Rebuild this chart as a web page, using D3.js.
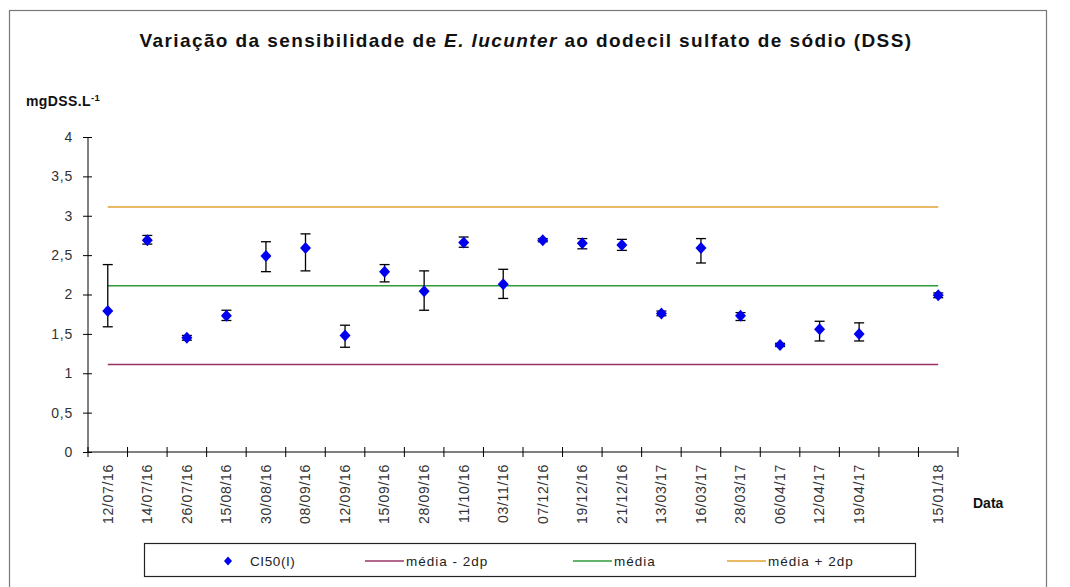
<!DOCTYPE html>
<html>
<head>
<meta charset="utf-8">
<script src="https://cdn.jsdelivr.net/npm/d3@7"></script>
<style>
  body { margin: 0; background: #fff; }
  text { font-family: "Liberation Sans", Arial, sans-serif; }
</style>
</head>
<body>
<div id="chart"></div>
<script>
// Categories (one empty slot before the last date, as in the original sheet)
const dates = ['12/07/16', '14/07/16', '26/07/16', '15/08/16', '30/08/16', '08/09/16',
    '12/09/16', '15/09/16', '28/09/16', '11/10/16', '03/11/16', '07/12/16', '19/12/16',
    '21/12/16', '13/03/17', '16/03/17', '28/03/17', '06/04/17', '12/04/17', '19/04/17',
    '', '15/01/18'];

// CI50(I) values in mgDSS/L (null = no sample)
const ci50 = [1.79, 2.69, 1.45, 1.73, 2.49, 2.59, 1.48, 2.29, 2.04, 2.66, 2.13, 2.69,
    2.65, 2.63, 1.76, 2.59, 1.73, 1.36, 1.56, 1.50, null, 1.99];
// confidence interval limits
const ciUpper = [2.38, 2.75, 1.48, 1.80, 2.67, 2.77, 1.61, 2.38, 2.30, 2.73, 2.32, 2.71,
    2.71, 2.70, 1.79, 2.71, 1.77, 1.38, 1.66, 1.64, null, 2.02];
const ciLower = [1.59, 2.64, 1.42, 1.67, 2.29, 2.30, 1.33, 2.16, 1.80, 2.60, 1.95, 2.67,
    2.58, 2.56, 1.73, 2.40, 1.67, 1.34, 1.41, 1.41, null, 1.96];

const media = 2.11;
const mediaMenos2dp = 1.11;
const mediaMais2dp = 3.11;

const yTicks = [0, 0.5, 1, 1.5, 2, 2.5, 3, 3.5, 4];

const width = 1070, height = 587;
const plot = { left: 88, right: 958, top: 137, bottom: 452 };

const svg = d3.select('#chart')
    .append('svg')
    .attr('width', width)
    .attr('height', height);

// outer frame (bottom edge runs off the picture)
svg.append('rect')
    .attr('x', 9.5).attr('y', 10.5)
    .attr('width', 1037).attr('height', 600)
    .attr('fill', 'none')
    .attr('stroke', '#777')
    .attr('stroke-width', 1.2);

const x = d3.scaleBand()
    .domain(d3.range(dates.length))
    .range([plot.left, plot.right])
    .padding(0);
const cx = i => x(i) + x.bandwidth() / 2;

const y = d3.scaleLinear()
    .domain([0, 4])
    .range([plot.bottom, plot.top]);

// title
const title = svg.append('text')
    .attr('x', 526).attr('y', 47)
    .attr('text-anchor', 'middle')
    .attr('font-size', 19)
    .attr('font-weight', 'bold')
    .attr('letter-spacing', 1.4)
    .attr('fill', '#111');
title.append('tspan').text('Variação da sensibilidade de ');
title.append('tspan').attr('font-style', 'italic').text('E. lucunter');
title.append('tspan').text(' ao dodecil sulfato de sódio (DSS)');

// y axis label
const yl = svg.append('text')
    .attr('x', 26).attr('y', 106)
    .attr('font-size', 14)
    .attr('font-weight', 'bold')
    .attr('letter-spacing', 0.4)
    .attr('fill', '#111');
yl.append('tspan').text('mgDSS.L');
yl.append('tspan').attr('dy', -5).attr('font-size', 9.5).text('-1');

// y axis
const yAxis = svg.append('g')
    .attr('transform', `translate(${plot.left},0)`)
    .call(d3.axisLeft(y).tickValues(yTicks).tickSize(5)
        .tickFormat(d => String(d).replace('.', ',')));
yAxis.select('.domain').attr('stroke', '#000').attr('d', `M0,${plot.top}V${plot.bottom}`);
yAxis.selectAll('.tick line').attr('x1', -5).attr('x2', 4).attr('stroke', '#000');
yAxis.selectAll('.tick text')
    .attr('x', -15)
    .attr('font-size', 14)
    .attr('letter-spacing', 0.8)
    .attr('fill', '#333')
    .attr('font-family', '"Liberation Sans", Arial, sans-serif');

// x axis: tick marks on the category boundaries, labels at centres
const xAxis = svg.append('g')
    .attr('transform', `translate(0,${plot.bottom})`)
    .call(d3.axisBottom(x).tickSize(0).tickFormat(i => dates[i]));
xAxis.select('.domain').attr('stroke', '#000').attr('d', `M${plot.left},0H${plot.right}`);
xAxis.selectAll('.tick text')
    .attr('font-size', 14)
    .attr('letter-spacing', 0.7)
    .attr('fill', '#333')
    .attr('font-family', '"Liberation Sans", Arial, sans-serif')
    .attr('transform', 'rotate(-90)')
    .attr('text-anchor', 'end')
    .attr('x', -12)
    .attr('y', 0)
    .attr('dy', '0.35em');
const bounds = d3.range(dates.length + 1).map(i => i < dates.length ? x(i) : plot.right);
xAxis.selectAll('.bound')
    .data(bounds)
    .join('line')
    .attr('class', 'bound')
    .attr('x1', d => d).attr('x2', d => d)
    .attr('y1', -5).attr('y2', 5)
    .attr('stroke', '#000');

svg.append('text')
    .attr('x', 973).attr('y', 508)
    .attr('font-size', 14)
    .attr('font-weight', 'bold')
    .attr('fill', '#111')
    .text('Data');

// reference lines
const refLines = [
    { v: mediaMenos2dp, color: '#993366', label: 'média - 2dp' },
    { v: media, color: '#2e9a3a', label: 'média' },
    { v: mediaMais2dp, color: '#e0a030', label: 'média + 2dp' }
];
svg.selectAll('.ref')
    .data(refLines)
    .join('line')
    .attr('class', 'ref')
    .attr('x1', cx(0)).attr('x2', cx(dates.length - 1))
    .attr('y1', d => y(d.v)).attr('y2', d => y(d.v))
    .attr('stroke', d => d.color)
    .attr('stroke-width', 1.5);

// error bars
const pts = ci50.map((v, i) => ({ i, v, hi: ciUpper[i], lo: ciLower[i] })).filter(d => d.v != null);
const eb = svg.append('g').attr('stroke', '#000').attr('stroke-width', 1.3);
eb.selectAll('.stem').data(pts).join('line')
    .attr('x1', d => cx(d.i)).attr('x2', d => cx(d.i))
    .attr('y1', d => y(d.hi)).attr('y2', d => y(d.lo));
eb.selectAll('.capHi').data(pts).join('line')
    .attr('x1', d => cx(d.i) - 5).attr('x2', d => cx(d.i) + 5)
    .attr('y1', d => y(d.hi)).attr('y2', d => y(d.hi));
eb.selectAll('.capLo').data(pts).join('line')
    .attr('x1', d => cx(d.i) - 5).attr('x2', d => cx(d.i) + 5)
    .attr('y1', d => y(d.lo)).attr('y2', d => y(d.lo));

// diamonds
const diamond = 'M0,-6L5.5,0L0,6L-5.5,0Z';
svg.selectAll('.pt').data(pts).join('path')
    .attr('class', 'pt')
    .attr('d', diamond)
    .attr('transform', d => `translate(${cx(d.i)},${y(d.v)})`)
    .attr('fill', '#0000ee');

// legend
const lg = svg.append('g');
lg.append('rect')
    .attr('x', 144.5).attr('y', 543.5)
    .attr('width', 771).attr('height', 33)
    .attr('fill', '#fff')
    .attr('stroke', '#222')
    .attr('stroke-width', 1.2);
lg.append('path')
    .attr('d', 'M0,-4.5L4,0L0,4.5L-4,0Z')
    .attr('transform', 'translate(228,561)')
    .attr('fill', '#0000ee');
lg.append('text')
    .attr('x', 250).attr('y', 566)
    .attr('font-size', 13.5).attr('fill', '#222')
    .attr('letter-spacing', 0.6)
    .text('CI50(I)');
const legendX = [365, 573, 727];
refLines.forEach((d, k) => {
    lg.append('line')
        .attr('x1', legendX[k]).attr('x2', legendX[k] + 39)
        .attr('y1', 561).attr('y2', 561)
        .attr('stroke', d.color).attr('stroke-width', 1.3);
    lg.append('text')
        .attr('x', legendX[k] + 41).attr('y', 566)
        .attr('font-size', 13.5).attr('fill', '#222')
        .attr('letter-spacing', 1)
        .text(d.label);
});
</script>
</body>
</html>
